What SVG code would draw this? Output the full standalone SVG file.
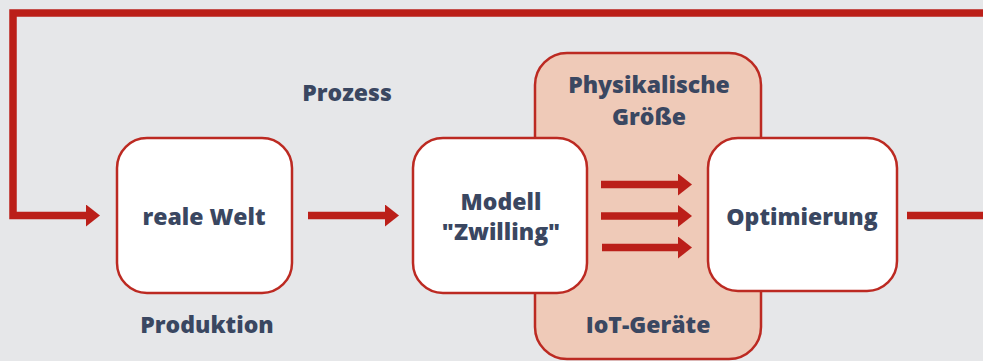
<svg xmlns="http://www.w3.org/2000/svg" width="983" height="361" viewBox="0 0 983 361">
  <defs>
    <style>
      .bg { fill: #e6e7e9; }
      .node { fill: #ffffff; stroke: #bc2a22; stroke-width: 2.5; }
      .zone { fill: #efcab8; stroke: #bc2a22; stroke-width: 2.5; }
      .flow { fill: none; stroke: #bb1f19; stroke-width: 7.5; }
      .label { font-family: "Open Sans", Lato, sans-serif; font-weight: 800; font-size: 23px; fill: #3a4761; text-anchor: middle; }
    </style>
    <marker id="head" viewBox="0 0 14 22" refX="0" refY="11" markerWidth="14" markerHeight="22" markerUnits="userSpaceOnUse" orient="auto">
      <path d="M0,0 L14,11 L0,22 Z" fill="#bb1f19"/>
    </marker>
  </defs>

  <rect class="bg" x="0" y="0" width="983" height="361"/>

  <!-- sensor zone behind the twin -->
  <g id="zone-iot">
    <rect class="zone" x="535" y="53" width="226" height="306" rx="32"/>
    <text class="label" x="649" y="93">Physikalische</text>
    <text class="label" x="649" y="125">Größe</text>
    <text class="label" x="648" y="333">IoT-Geräte</text>
  </g>

  <!-- connectors -->
  <g id="connectors">
    <polyline class="flow" points="983,13 13,13 13,215.5 86,215.5" marker-end="url(#head)"/>
    <line class="flow" x1="308" y1="215.5" x2="385" y2="215.5" marker-end="url(#head)"/>
    <line class="flow" x1="601" y1="184.5" x2="678" y2="184.5" marker-end="url(#head)"/>
    <line class="flow" x1="601" y1="216" x2="678" y2="216" marker-end="url(#head)"/>
    <line class="flow" x1="602" y1="247.5" x2="678" y2="247.5" marker-end="url(#head)"/>
    <line class="flow" x1="907" y1="215.5" x2="983" y2="215.5"/>
  </g>

  <text class="label" x="347" y="101">Prozess</text>

  <g id="node-real">
    <rect class="node" x="117" y="138" width="175" height="155" rx="30"/>
    <text class="label" x="204" y="225">reale Welt</text>
    <text class="label" x="207" y="333">Produktion</text>
  </g>

  <g id="node-twin">
    <rect class="node" x="413" y="138" width="174" height="155" rx="30"/>
    <text class="label" x="501" y="210">Modell</text>
    <text class="label" x="501" y="240">"Zwilling"</text>
  </g>

  <g id="node-opt">
    <rect class="node" x="708" y="138" width="189" height="153" rx="30"/>
    <text class="label" x="802" y="225">Optimierung</text>
  </g>
</svg>
